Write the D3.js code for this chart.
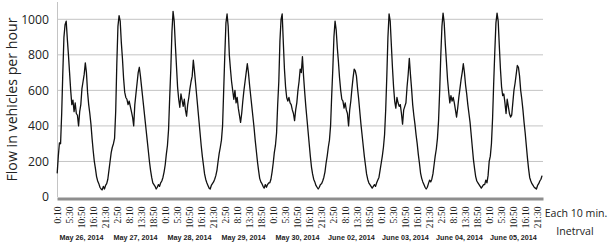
<!DOCTYPE html>
<html>
<head>
<meta charset="utf-8">
<script src="https://cdn.jsdelivr.net/npm/d3@7"></script>
<style>
  html, body { margin: 0; padding: 0; background: #fff; }
  svg { display: block; }
</style>
</head>
<body>
<div id="chart"></div>
<script>
// ---------- DATA ----------
const dates = ["May 26, 2014", "May 27, 2014", "May 28, 2014", "May 29, 2014", "May 30, 2014",
               "June 02, 2014", "June 03, 2014", "June 04, 2014", "June 05, 2014"];

const tickLabels = [
  "0:10","5:30","10:50","16:10","21:30","2:50","8:10","13:30","18:50",
  "0:10","5:30","10:50","16:10","21:30","2:50","8:10","13:30","18:50",
  "0:10","5:30","10:50","16:10","21:30","2:50","8:10","13:30","18:50",
  "0:10","5:30","10:50","16:10","21:30","2:50","8:10","13:30","18:50",
  "0:10","5:30","10:50","16:10","21:30"
];

const yTicks = [0, 200, 400, 600, 800, 1000];

// flow (vehicles/hour) read every 30 minutes starting 0:10 for each day
const may26 = [133,230,305,300,470,700,900,970,990,890,800,700,600,520,545,480,530,470,460,400,480,520,610,650,
               690,755,700,590,520,470,410,330,260,200,160,115,90,75,55,45,40,60,45,65,75,100,150,200];
const may27 = [250,280,300,330,480,750,960,1020,990,870,780,670,590,560,550,520,540,510,480,450,400,520,580,640,
               700,730,680,620,560,500,440,380,320,260,200,150,110,80,70,60,45,55,70,60,80,90,110,140];
const may28 = [180,240,290,380,560,720,930,1045,990,860,740,620,550,505,580,545,510,550,490,455,520,560,610,650,
               680,770,710,640,570,500,430,360,290,230,180,130,100,80,65,50,45,65,75,85,100,120,150,200];
const may29 = [245,280,320,400,600,800,980,1030,960,800,720,650,600,550,600,530,560,500,460,420,470,540,600,650,
               700,750,700,630,570,510,450,390,320,260,200,150,105,85,75,60,50,70,55,70,80,80,100,140];
const may30 = [190,250,290,360,520,650,880,1000,1030,870,720,620,560,540,560,530,520,490,470,430,490,530,600,650,
               720,700,790,680,590,510,440,370,300,230,170,130,100,85,65,55,45,55,70,75,90,110,140,190];
const jun02 = [230,280,320,400,570,720,900,990,940,840,760,670,600,550,540,500,530,490,470,400,490,540,610,670,
               720,710,680,610,550,480,410,350,290,230,180,130,100,80,70,60,50,60,70,60,80,95,110,150];
const jun03 = [190,230,280,350,490,680,900,1030,990,860,730,620,540,500,560,530,510,520,470,410,490,510,530,620,
               690,780,690,610,520,460,410,350,300,240,190,135,105,85,70,55,45,55,75,95,85,100,130,180];
const jun04 = [230,270,330,430,600,800,960,1035,980,860,760,660,590,530,570,540,560,530,490,450,500,560,610,660,
               700,750,700,630,580,520,470,420,350,280,210,160,115,90,80,70,60,50,60,70,70,95,80,120];
const jun05 = [200,230,300,440,640,820,980,1035,990,850,720,620,570,580,530,470,550,510,470,450,460,530,600,640,
               690,740,730,680,600,550,490,420,360,290,220,160,110,90,75,65,55,50,45,65,75,90,100,120];

const days = [may26, may27, may28, may29, may30, jun02, jun03, jun04, jun05];
const intervalsPerDay = 144;   // 10-minute intervals
const sampleStep = 3;          // readings every 3 intervals (30 min)

// ---------- CHART ----------
const W = 609, H = 244;
const svg = d3.select("#chart").append("svg").attr("width", W).attr("height", H);

const nCats = intervalsPerDay * days.length;
const x = d3.scaleLinear().domain([-0.5, nCats - 0.5]).range([57, 543]);
const y = d3.scaleLinear().domain([0, 1000]).range([197, 19.3]);

// gridlines
svg.append("g").selectAll("line").data(yTicks.filter(v => v > 0)).join("line")
  .attr("x1", 57).attr("x2", 543)
  .attr("y1", d => y(d)).attr("y2", d => y(d))
  .attr("stroke", "#c4c4c4").attr("stroke-width", 1);

// vertical axis line
svg.append("line").attr("x1", 57.5).attr("x2", 57.5).attr("y1", 2).attr("y2", 197)
  .attr("stroke", "#c4c4c4").attr("stroke-width", 1);

// y axis
const yAxis = svg.append("g").attr("transform", "translate(57,0)")
  .call(d3.axisLeft(y).tickValues(yTicks).tickFormat(d3.format("d")).tickSize(0).tickPadding(8));
yAxis.select(".domain").remove();
yAxis.selectAll("text").attr("font-family", "'Open Sans', sans-serif").attr("font-size", 12.2).attr("fill", "#222");

// data points
const points = [];
days.forEach((arr, d) => arr.forEach((v, k) => points.push({ i: d * intervalsPerDay + k * sampleStep, v })));

svg.append("path").datum(points)
  .attr("fill", "none").attr("stroke", "#111").attr("stroke-width", 1.3).attr("stroke-linejoin", "round")
  .attr("d", d3.line().x(p => x(p.i)).y(p => y(p.v)));

// x axis
const xAxis = svg.append("g").attr("transform", "translate(0,198.5)")
  .call(d3.axisBottom(x).tickValues(d3.range(0, nCats, 32)).tickFormat((d, i) => tickLabels[i])
        .tickSize(0).tickSizeOuter(0));
xAxis.select(".domain").attr("stroke", "#8e8e8e").attr("stroke-width", 3);
xAxis.selectAll("text")
  .attr("transform", "rotate(-90)")
  .attr("x", -8).attr("y", 0).attr("dy", "0.35em")
  .style("text-anchor", "end")
  .attr("font-family", "'Liberation Serif', serif").attr("font-size", 9.5).attr("fill", "#222");

// date labels
svg.append("g").selectAll("text").data(dates).join("text")
  .attr("x", (d, i) => x(i * intervalsPerDay + intervalsPerDay / 2 - 0.5) - 2.5)
  .attr("y", 240)
  .attr("text-anchor", "middle")
  .attr("font-family", "'Liberation Sans', sans-serif").attr("font-weight", "bold")
  .attr("font-size", 7.2).attr("fill", "#222")
  .text(d => d);

// axis titles
svg.append("text").attr("transform", "translate(17,99.5) rotate(-90)")
  .attr("text-anchor", "middle")
  .attr("font-family", "'Open Sans', sans-serif").attr("font-size", 14.2).attr("fill", "#222")
  .text("Flow in vehicles per hour");

svg.append("text").attr("x", 576).attr("y", 217).attr("text-anchor", "middle")
  .attr("font-family", "'Open Sans', sans-serif").attr("font-size", 10.6).attr("fill", "#222")
  .text("Each 10 min.");
svg.append("text").attr("x", 575).attr("y", 235).attr("text-anchor", "middle")
  .attr("font-family", "'Open Sans', sans-serif").attr("font-size", 10.6).attr("fill", "#222")
  .text("Inetrval");
</script>
</body>
</html>
